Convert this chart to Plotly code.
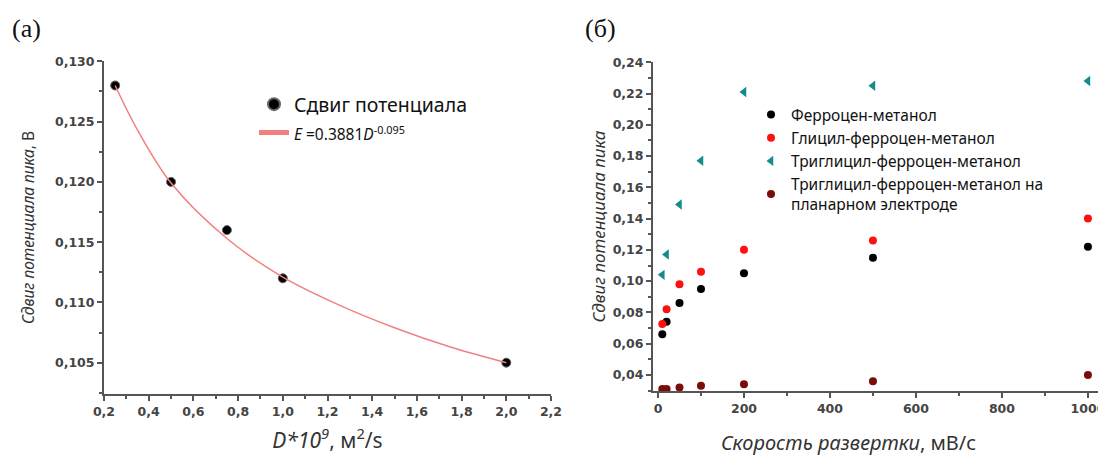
import plotly.graph_objects as go

# ---- Panel (a) data ----
D_values = [0.25, 0.5, 0.75, 1.0, 2.0]
shift_values = [0.128, 0.120, 0.116, 0.112, 0.105]
# fitted curve
fit_D = [0.25, 0.35, 0.5, 0.75, 1.0, 1.25, 1.5, 1.75, 2.0]
fit_E = [0.1280, 0.1243, 0.1199, 0.1153, 0.1121, 0.1098, 0.1079, 0.1063, 0.1050]

# ---- Panel (б) data ----
scan_rate = [10, 20, 50, 100, 200, 500, 1000]
ferrocene = [0.066, 0.074, 0.086, 0.095, 0.105, 0.115, 0.122]
glycyl = [0.0725, 0.082, 0.098, 0.106, 0.120, 0.126, 0.140]
triglycyl = [0.104, 0.117, 0.149, 0.177, 0.221, 0.225, 0.228]
triglycyl_planar = [0.031, 0.031, 0.032, 0.033, 0.034, 0.036, 0.040]

names_b = ["Ферроцен-метанол", "Глицил-ферроцен-метанол", "Триглицил-ферроцен-метанол",
           "Триглицил-ферроцен-метанол на<br>планарном электроде"]

W, H = 1106, 457
AX = "#555555"
TICKFONT = dict(family="DejaVu Sans", size=12.5, color="#444444", weight="bold")

fig = go.Figure()

fig.add_trace(go.Scatter(x=D_values, y=shift_values, mode="markers", name="Сдвиг потенциала",
                         marker=dict(color="black", size=9, line=dict(color="#666", width=1)),
                         xaxis="x", yaxis="y", legend="legend"))
fig.add_trace(go.Scatter(x=fit_D, y=fit_E, mode="lines",
                         name="<span style='font-size:15.5px'><i>E</i> =0.3881<i>D</i><sup>-0.095</sup></span>",
                         line=dict(color="#f28080", width=1.5, shape="spline"),
                         xaxis="x", yaxis="y", legend="legend"))

colors_b = ["#000000", "#ff1010", "#138c8c", "#7a0c0c"]
symbols_b = ["circle", "circle", "triangle-left", "circle"]
series_b = [ferrocene, glycyl, triglycyl, triglycyl_planar]
for nm, ys, c, s in zip(names_b, series_b, colors_b, symbols_b):
    fig.add_trace(go.Scatter(x=scan_rate, y=ys, mode="markers", name=nm,
                             marker=dict(color=c, symbol=s, size=8 if s == "circle" else 9),
                             xaxis="x2", yaxis="y2", legend="legend2"))

common = dict(showline=True, linecolor=AX, linewidth=2, ticks="outside", ticklen=5,
              tickwidth=1.5, tickcolor=AX, showgrid=False, zeroline=False, tickfont=TICKFONT,
              automargin=False)


def hdom(a, b):
    return [a / W, b / W]


def vdom(top, bottom):
    return [1 - bottom / H, 1 - top / H]


fig.update_layout(
    width=W, height=H,
    margin=dict(l=0, r=0, t=0, b=0, autoexpand=False),
    paper_bgcolor="white", plot_bgcolor="white",
    separators=", ",
    xaxis=dict(domain=hdom(96, 543), range=[0.2, 2.2], tick0=0.2, dtick=0.2, tickformat=".1f",
               minor=dict(dtick=0.1, ticks="outside", ticklen=3, tickcolor=AX),
               anchor="y",
               title=dict(text="<i>D*10<sup>9</sup></i>, м<sup>2</sup>/s",
                          font=dict(family="Noto Sans", size=21, color="#333333"), standoff=15),
               **common),
    yaxis=dict(domain=vdom(53, 386), range=[0.1024, 0.13003], tick0=0.105, dtick=0.005, tickformat=".3f",
               minor=dict(dtick=0.0025, ticks="outside", ticklen=3, tickcolor=AX),
               anchor="x",
               title=dict(text="<i>Сдвиг потенциала пика</i>, В",
                          font=dict(family="Noto Sans", size=15.5, color="#333333"), standoff=17),
               **common),
    xaxis2=dict(domain=hdom(645, 1098), range=[-11.6, 1042], tick0=0, dtick=200,
                minor=dict(dtick=100, ticks="outside", ticklen=3, tickcolor=AX),
                anchor="y2",
                **common),
    yaxis2=dict(domain=vdom(54, 383), range=[0.0297, 0.2402], tick0=0, dtick=0.02, tickformat=".2f",
                minor=dict(dtick=0.01, ticks="outside", ticklen=3, tickcolor=AX),
                anchor="x2",
                title=dict(text="<i>Сдвиг потенциала пика</i>",
                           font=dict(family="Noto Sans", size=17, color="#333333"), standoff=3),
                **common),
    legend=dict(x=246 / W, y=1 - 77 / H, xanchor="left", yanchor="top", bgcolor="rgba(0,0,0,0)",
                font=dict(family="Noto Sans", size=19.5, color="#111111"), tracegroupgap=0,
                itemsizing="constant"),
    legend2=dict(x=743 / W, y=1 - 90 / H, xanchor="left", yanchor="top", bgcolor="rgba(0,0,0,0)",
                 font=dict(family="Noto Sans", size=15.5, color="#111111"), tracegroupgap=0),
    showlegend=True,
    annotations=[
        dict(text="(a)", x=2 / W, y=1 - 21 / H, xref="paper", yref="paper", showarrow=False,
             xanchor="left", yanchor="middle",
             font=dict(family="Liberation Serif", size=26, color="#111111")),
        dict(text="(б)", x=575 / W, y=1 - 21 / H, xref="paper", yref="paper", showarrow=False,
             xanchor="left", yanchor="middle",
             font=dict(family="Liberation Serif", size=26, color="#111111")),
        dict(text="<i>Скорость развертки</i>, мВ/с", x=840 / W, y=1 - 434 / H, xref="paper", yref="paper",
             showarrow=False, xanchor="center", yanchor="middle",
             font=dict(family="Noto Sans", size=20, color="#333333")),
    ],
)

fig.write_html("out.html")
